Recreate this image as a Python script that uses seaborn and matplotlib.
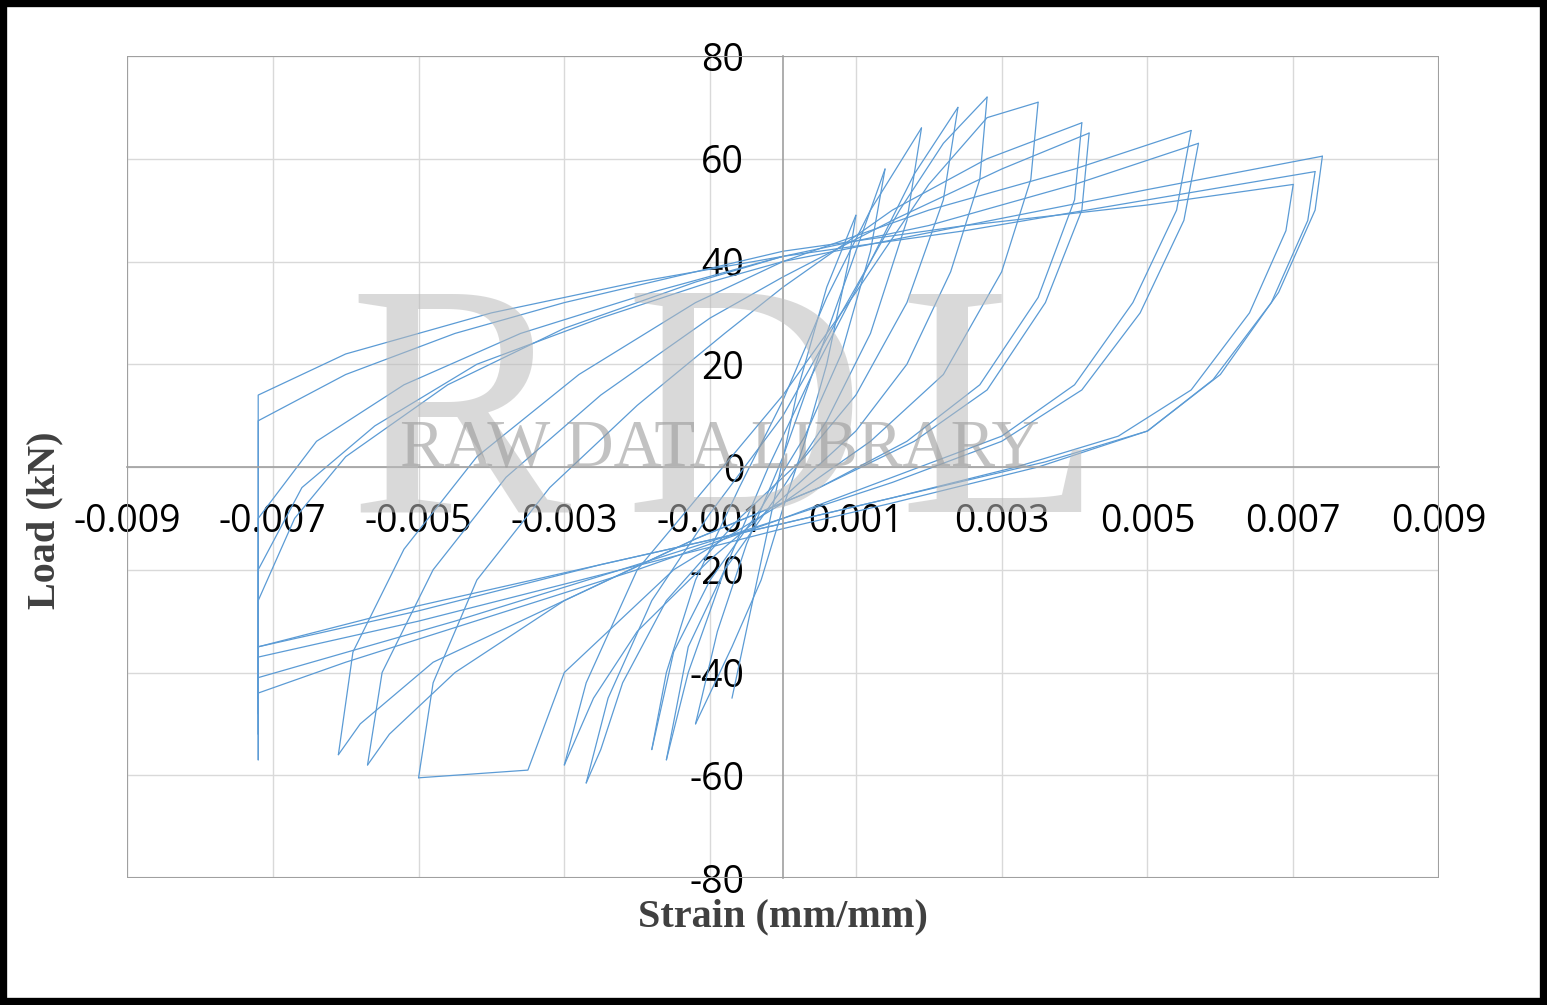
import seaborn as sns
import matplotlib.pyplot as plt
from matplotlib.patches import Rectangle

# hysteresis loops: each loop is a reload branch (neg peak -> pos peak)
# and an unload branch (pos peak -> next neg peak), given as strain / load waypoints
loops = [
    # small cycles near the origin
    ([-0.0007, -0.0004, -0.0001, 0.0002, 0.0006, 0.0010],
     [-45, -25, -5, 15, 35, 49],
     [0.0010, 0.0009, 0.0006, 0.0003, 0.0, -0.0003, -0.0007, -0.0012],
     [49, 40, 20, 5, -8, -22, -35, -50]),
    ([-0.0012, -0.0009, -0.0005, 0.0, 0.0005, 0.0010, 0.0014],
     [-50, -32, -15, 2, 22, 42, 58],
     [0.0014, 0.0012, 0.0008, 0.0003, -0.0003, -0.0010, -0.0015, -0.0018],
     [58, 42, 22, 6, -8, -22, -36, -55]),
    ([-0.0018, -0.0016, -0.0012, -0.0006, 0.0, 0.0006, 0.0012, 0.0019],
     [-55, -40, -22, -4, 13, 33, 50, 66],
     [0.0019, 0.0017, 0.0012, 0.0006, 0.0, -0.0008, -0.0013, -0.0016],
     [66, 48, 26, 9, -4, -20, -35, -57]),
    ([-0.0016, -0.0013, -0.0008, -0.0002, 0.0004, 0.0012, 0.0018, 0.0024],
     [-57, -40, -20, 0, 18, 40, 57, 70],
     [0.0024, 0.0022, 0.0017, 0.0010, 0.0003, -0.0006, -0.0016, -0.0022, -0.0025, -0.0027],
     [70, 52, 32, 14, 2, -10, -26, -42, -55, -61.5]),
    ([-0.0027, -0.0024, -0.0018, -0.0010, 0.0, 0.0008, 0.0016, 0.0022, 0.0028],
     [-61.5, -45, -26, -9, 10, 30, 50, 63, 72],
     [0.0028, 0.0027, 0.0023, 0.0017, 0.0010, 0.0, -0.0010, -0.0020, -0.0026, -0.0030],
     [72, 56, 38, 20, 7, -6, -18, -32, -45, -58]),
    ([-0.0030, -0.0027, -0.0020, -0.0010, 0.0, 0.0010, 0.0020, 0.0028, 0.0035],
     [-58, -42, -20, -3, 14, 34, 55, 68, 71],
     [0.0035, 0.0034, 0.0030, 0.0022, 0.0012, 0.0, -0.0015, -0.0030, -0.0035, -0.0050],
     [71, 56, 38, 18, 5, -7, -20, -40, -59, -60.5]),
    # medium cycles
    ([-0.0050, -0.0048, -0.0042, -0.0032, -0.0020, -0.0008, 0.0, 0.0015, 0.0028, 0.0041],
     [-60.5, -42, -22, -4, 12, 26, 35, 50, 60, 67],
     [0.0041, 0.0040, 0.0035, 0.0027, 0.0017, 0.0005, -0.0012, -0.0030, -0.0045, -0.0054, -0.0057],
     [67, 52, 33, 16, 5, -4, -14, -26, -40, -52, -58]),
    ([-0.0057, -0.0055, -0.0048, -0.0038, -0.0025, -0.0010, 0.0, 0.0015, 0.0030, 0.0042],
     [-58, -40, -20, -2, 14, 29, 37, 48, 58, 65],
     [0.0042, 0.0041, 0.0036, 0.0028, 0.0018, 0.0005, -0.0012, -0.0030, -0.0048, -0.0058, -0.0061],
     [65, 50, 32, 15, 5, -4, -14, -26, -38, -50, -56]),
    ([-0.0061, -0.0059, -0.0052, -0.0042, -0.0028, -0.0012, 0.0, 0.0020, 0.0040, 0.0056],
     [-56, -36, -16, 2, 18, 32, 40, 50, 58, 65.5],
     [0.0056, 0.0054, 0.0048, 0.0040, 0.0030, 0.0015, 0.0, -0.0020, -0.0040, -0.0060, -0.0072, -0.0072],
     [65.5, 50, 32, 16, 6, -2, -10, -20, -29, -38, -44, -57]),
    # large cycles
    ([-0.0072, -0.0072, -0.0067, -0.0060, -0.0046, -0.0030, -0.0012, 0.0, 0.0020, 0.0040, 0.0057],
     [-57, -26, -10, 2, 16, 27, 36, 41, 47, 55, 63],
     [0.0057, 0.0055, 0.0049, 0.0041, 0.0030, 0.0015, 0.0, -0.0020, -0.0045, -0.0072, -0.0072],
     [63, 48, 30, 15, 5, -3, -10, -19, -30, -41, -52]),
    ([-0.0072, -0.0072, -0.0066, -0.0056, -0.0042, -0.0025, -0.0010, 0.0, 0.0025, 0.0050, 0.0074],
     [-52, -20, -4, 8, 20, 29, 36, 40, 47, 54, 60.5],
     [0.0074, 0.0073, 0.0068, 0.0060, 0.0050, 0.0035, 0.0015, 0.0, -0.0025, -0.0050, -0.0072, -0.0072],
     [60.5, 50, 34, 18, 7, 0, -7, -12, -21, -30, -37, -48]),
    ([-0.0072, -0.0072, -0.0064, -0.0052, -0.0036, -0.0018, 0.0, 0.0025, 0.0050, 0.0073],
     [-48, -10, 5, 16, 26, 34, 41, 46, 52, 57.5],
     [0.0073, 0.0072, 0.0067, 0.0059, 0.0050, 0.0036, 0.0018, 0.0, -0.0025, -0.0050, -0.0072, -0.0072],
     [57.5, 48, 32, 17, 7, 1, -5, -11, -19, -28, -35, -45]),
    ([-0.0072, -0.0072, -0.0060, -0.0045, -0.0030, -0.0012, 0.0, 0.0025, 0.0050, 0.0070],
     [-45, 9, 18, 26, 32, 38, 42, 47, 51, 55],
     [0.0070, 0.0069, 0.0064, 0.0056, 0.0046, 0.0032, 0.0015, 0.0, -0.0025, -0.0050, -0.0072, -0.0072, -0.0060, -0.0040, -0.0020, 0.0],
     [55, 46, 30, 15, 6, 0, -6, -11, -19, -27, -35, 14, 22, 30, 36, 41]),
]

x_ticks = [-0.009, -0.007, -0.005, -0.003, -0.001, 0.001, 0.003, 0.005, 0.007, 0.009]
x_labels = ["-0.009", "-0.007", "-0.005", "-0.003", "-0.001", "0.001", "0.003", "0.005", "0.007", "0.009"]
y_ticks = [-80, -60, -40, -20, 0, 20, 40, 60, 80]

sns.set_style("white")
plt.rcParams['font.family'] = ['Open Sans', 'DejaVu Sans']

fig = plt.figure(figsize=(15.47, 10.05), dpi=100)
ax = fig.add_axes([127 / 1547, 127 / 1005, 1312 / 1547, 822 / 1005])

line_color = "#5B9BD5"
for xu, yu, xd, yd in loops:
    sns.lineplot(x=xu, y=yu, ax=ax, color=line_color, lw=0.9, sort=False, estimator=None)
    sns.lineplot(x=xd, y=yd, ax=ax, color=line_color, lw=0.9, sort=False, estimator=None)

ax.set_xlim(-0.009, 0.009)
ax.set_ylim(-80, 80)
ax.set_xticks(x_ticks)
ax.set_xticklabels(x_labels)
ax.set_yticks(y_ticks)
ax.set_yticklabels([str(v) for v in y_ticks])
ax.grid(True, color="#D9D9D9", lw=1)
ax.tick_params(length=0, labelsize=27, colors="black")
ax.tick_params(axis='x', pad=26)
ax.tick_params(axis='y', pad=28)

for s in ['top', 'right']:
    ax.spines[s].set_visible(False)
ax.spines['left'].set_position(('data', 0))
ax.spines['bottom'].set_position(('data', 0))
for s in ['left', 'bottom']:
    ax.spines[s].set_color("#A0A0A0")
    ax.spines[s].set_linewidth(1.2)
ax.add_patch(Rectangle((0, 0), 1, 1, transform=ax.transAxes, fill=False,
                       ec="#A0A0A0", lw=1.5, zorder=5))

# watermark
for letter, xc in [("R", 460), ("D", 745), ("L", 1000)]:
    fig.text(xc / 1547, 1 - 432 / 1005, letter, fontsize=240, family="Liberation Serif",
             color="#BBBBBB", alpha=0.55, ha="center", va="center", zorder=0)
fig.text(0.465, 0.553, "RAW DATA LIBRARY", fontsize=48, family="Liberation Serif",
         color="#9A9A9A", alpha=0.6, ha="center", va="center")

fig.text(783 / 1547, 1 - 917 / 1005, "Strain (mm/mm)", fontsize=29, fontweight="bold",
         family="Liberation Serif", color="#404040", ha="center", va="center")
fig.text(45 / 1547, 1 - 520 / 1005, "Load (kN)", fontsize=29, fontweight="bold",
         family="Liberation Serif", color="#404040", ha="center", va="center", rotation=90)

fig.patches.append(Rectangle((0.002, 0.003), 0.996, 0.994, transform=fig.transFigure,
                             fill=False, ec="black", lw=6))

fig.savefig("out.png", dpi=100)
